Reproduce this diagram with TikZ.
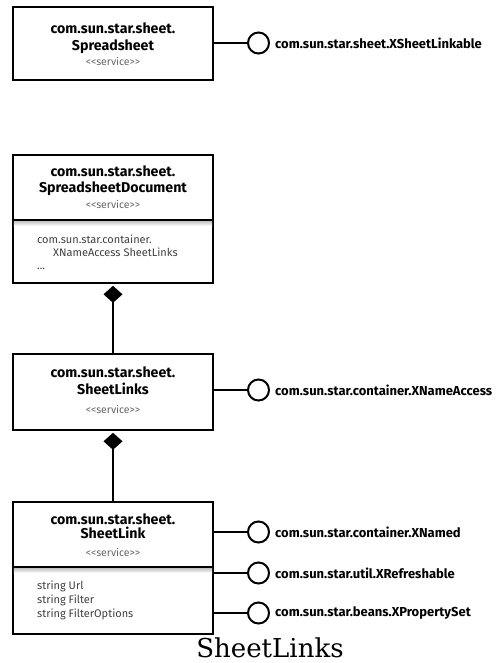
\documentclass[tikz,border=0pt]{standalone}
\usepackage{fontspec}
\setmainfont{Fira Sans}
\newfontfamily\titlefont{DejaVu Serif}
\usetikzlibrary{arrows.meta,shapes.geometric}
\newcommand{\svc}{{<}{<}service{>}{>}}
\tikzset{
  umlbox/.style={draw, line width=1.6pt, minimum width=200pt, inner sep=0pt, fill=white},
  ttl/.style={font=\fontsize{14.2}{16}\selectfont\bfseries, inner sep=0pt, anchor=base},
  stereo/.style={font=\fontsize{10.5}{12}\selectfont, text=black!60, inner sep=0pt, anchor=base},
  attr/.style={font=\fontsize{11}{13}\selectfont, text=black!75, inner sep=0pt, anchor=base west},
  iface/.style={draw, circle, line width=2pt, minimum size=21pt, inner sep=0pt},
  ilbl/.style={font=\fontsize{13}{15}\selectfont\bfseries, inner sep=0pt, anchor=west},
  conn/.style={line width=2pt},
  comp/.style={line width=2pt, {Diamond[length=17pt,width=19pt]}-, shorten <=2pt},
}
\begin{document}
\begin{tikzpicture}[x=1pt,y=-1pt]
\useasboundingbox (0,0) rectangle (502,663);

% Box 1: Spreadsheet
\node[umlbox, minimum height=73pt] (b1) at (113,43.5) {};
\node[ttl] (b1t1) at (113,34) {com.sun.star.sheet.};
\node[ttl] (b1t2) at (113,51) {Spreadsheet};
\node[stereo] (b1s) at (113,66) {\svc};
\node[iface] (i1) at (258.5,43) {};
\node[ilbl] (l1) at ([xshift=5pt]i1.east) {com.sun.star.sheet.XSheetLinkable};
\draw[conn] (b1.east |- i1) -- (i1);

% Box 2: SpreadsheetDocument
\node[umlbox, minimum height=128pt] (b2) at (113,219) {};
\shade[top color=black!25, bottom color=white] (13.8,220.8) rectangle (212.2,226);
\draw[line width=1.6pt] (b2.west |- 0,220) -- (b2.east |- 0,220);
\node[ttl] (b2t1) at (113,176) {com.sun.star.sheet.};
\node[ttl] (b2t2) at (113,192) {SpreadsheetDocument};
\node[stereo] (b2s) at (113,208) {\svc};
\node[attr] (b2a1) at (37,243) {com.sun.star.container.};
\node[attr] (b2a2) at (53,256) {XNameAccess SheetLinks};
\node[attr] (b2a3) at (37,269) {...};

% Box 3: SheetLinks
\node[umlbox, minimum height=76pt] (b3) at (113,392) {};
\node[ttl] (b3t1) at (113,377) {com.sun.star.sheet.};
\node[ttl] (b3t2) at (113,394) {SheetLinks};
\node[stereo] (b3s) at (113,413) {\svc};
\node[iface] (i2) at (258.5,390) {};
\node[ilbl] (l2) at ([xshift=5pt]i2.east) {com.sun.star.container.XNameAccess};
\draw[conn] (b3.east |- i2) -- (i2);

% Box 4: SheetLink
\node[umlbox, minimum height=132pt] (b4) at (113,568) {};
\shade[top color=black!25, bottom color=white] (13.8,567.8) rectangle (212.2,573);
\draw[line width=1.6pt] (b4.west |- 0,567) -- (b4.east |- 0,567);
\node[ttl] (b4t1) at (113,524) {com.sun.star.sheet.};
\node[ttl] (b4t2) at (113,538) {SheetLink};
\node[stereo] (b4s) at (113,556) {\svc};
\node[attr] (b4a1) at (37,589) {string Url};
\node[attr] (b4a2) at (37,603) {string Filter};
\node[attr] (b4a3) at (37,617) {string FilterOptions};
\node[iface] (i3) at (258.5,532) {};
\node[ilbl] (l3) at ([xshift=5pt]i3.east) {com.sun.star.container.XNamed};
\draw[conn] (b4.east |- i3) -- (i3);
\node[iface] (i4) at (258.5,573) {};
\node[ilbl] (l4) at ([xshift=5pt]i4.east) {com.sun.star.util.XRefreshable};
\draw[conn] (b4.east |- i4) -- (i4);
\node[iface] (i5) at (258.5,613) {};
\node[ilbl] (l5) at ([xshift=5pt]i5.east) {com.sun.star.beans.XPropertySet};
\draw[conn] (b4.east |- i5) -- (i5);

% compositions
\draw[comp] (b2.south) -- (b3.north);
\draw[comp] (b3.south) -- (b4.north);

% caption
\node[font=\titlefont\fontsize{26}{30}\selectfont, inner sep=0pt, text depth=0pt, anchor=base] (cap) at (270,657) {SheetLinks};
\end{tikzpicture}
\end{document}
